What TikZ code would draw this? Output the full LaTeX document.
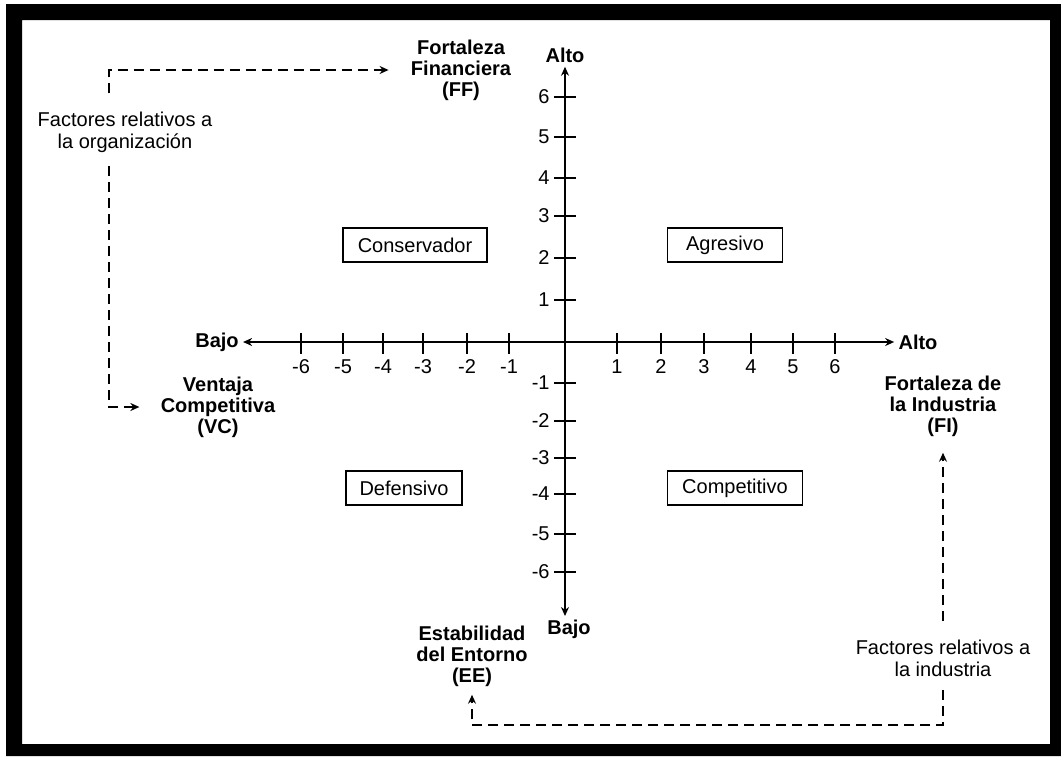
\documentclass[tikz,border=0pt]{standalone}
\usepackage{fontspec}
\setmainfont{Liberation Sans}
\usepackage{tikz}
\usetikzlibrary{arrows.meta,positioning}
\tikzstyle{quadbox} = [rectangle, draw=black, line width=0.9pt, minimum height=17pt, inner sep=0pt, text centered, font=\fontsize{10}{11}\selectfont]
\tikzstyle{factorlbl} = [align=center, inner sep=2pt, font=\bfseries\fontsize{10}{10.5}\selectfont]
\tikzstyle{notelbl} = [align=center, inner sep=2pt, font=\fontsize{10}{11}\selectfont]
\tikzstyle{numlbl} = [inner sep=2pt, font=\fontsize{10}{11}\selectfont]
\tikzstyle{axisline} = [line width=1pt,{Stealth[length=4.5pt,width=4pt]}-{Stealth[length=4.5pt,width=4pt]}]
\tikzstyle{tickline} = [line width=1pt]
\tikzstyle{flow} = [line width=1pt,-{Stealth[length=4.5pt,width=4pt]},dash pattern=on 5pt off 3pt]

\begin{document}
\begin{tikzpicture}[x=0.5pt,y=-0.5pt]
\useasboundingbox (0,0) rectangle (1061,756);
% frame
\fill[white] (0,0) rectangle (1061,756);
\fill[black, even odd rule] (6,4) rectangle (1061,756) (22,20) rectangle (1050,744);

% Axis labels
\node[factorlbl] (altoT) at (565,55) {Alto};
\node[factorlbl, anchor=north] (bajoB) at (569,616) {Bajo};
\node[factorlbl] (bajoL) at (217,342) {Bajo};
\node[factorlbl] (altoR) at (918,342) {Alto};

% Axes
\draw[axisline] (bajoL) -- (altoR);
\draw[axisline] (altoT) -- (altoT |- bajoB.north);

% Ticks
\foreach \x/\v in {301/-6,343/-5,383/-4,423/-3,467/-2,509/-1,617/1,661/2,704/3,751/4,793/5,835/6} {
  \draw[tickline] (\x,333) -- (\x,354);
  \node[numlbl] (hx\x) at (\x,367) {\v};
}
\foreach \y/\v in {97/6,137/5,178/4,216/3,258/2,300/1,383/-1,421/-2,458/-3,494/-4,534/-5,572/-6} {
  \draw[tickline] (554,\y) -- (576,\y);
  \node[numlbl, anchor=east] (vy\y) at (554,\y) {\v};
}

% Quadrants
\node[quadbox, minimum width=72pt] (conservador) at (415,245) {Conservador};
\node[quadbox, minimum width=57.5pt] (agresivo) at (725,245) {Agresivo};
\node[quadbox, minimum width=58pt] (defensivo) at (404,488) {Defensivo};
\node[quadbox, minimum width=67.5pt] (competitivo) at (735,488) {Competitivo};

% Factors
\node[factorlbl] (ff) at (461,70) {Fortaleza\\Financiera\\(FF)};
\node[factorlbl] (vc) at (218,407) {Ventaja\\Competitiva\\(VC)};
\node[factorlbl] (fi) at (943,406) {Fortaleza de\\la Industria\\(FI)};
\node[factorlbl] (ee) at (472,656) {Estabilidad\\del Entorno\\(EE)};

% Groups of factors
\node[notelbl] (org) at (125,132) {Factores relativos a\\la organización};
\node[notelbl] (ind) at (943,658) {Factores relativos a\\la industria};

\coordinate (orgtop) at (109,70);
\coordinate (orgbot) at (109,407);
\coordinate (indbot) at (943,725);
\coordinate (eebot) at (472,725);

% Dashed arrows
\draw[flow, shorten <=7pt] (org.north -| orgtop) -- (orgtop) -- ([xshift=-9pt]ff.west);
\draw[flow, shorten <=4.5pt] (org.south -| orgbot) -- (orgbot) -- ([xshift=-8.5pt]vc.west);
\draw[flow, shorten <=7pt] (ind.north) -- ([yshift=-6pt]fi.south);
\draw[flow, shorten <=4.5pt] (ind.south) -- (indbot) -- (eebot) -- ([yshift=-2pt]ee.south);
\end{tikzpicture}
\end{document}
